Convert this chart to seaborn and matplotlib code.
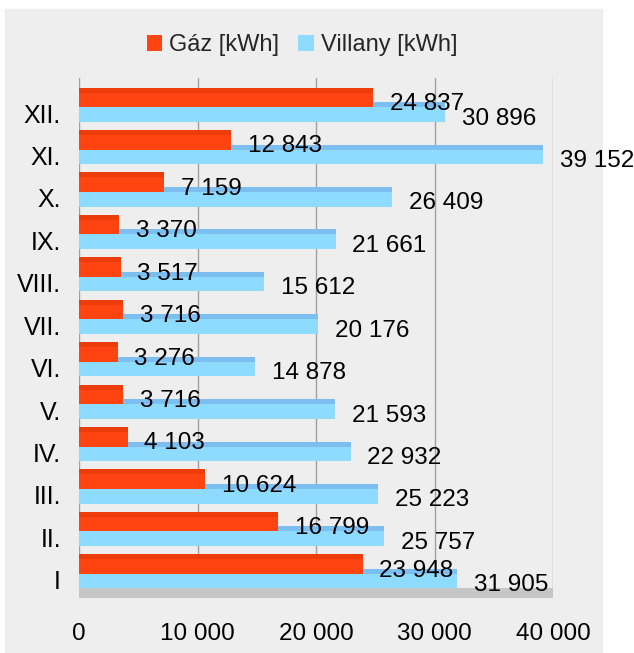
import pandas as pd
import seaborn as sns
import matplotlib.pyplot as plt
from matplotlib.patches import Rectangle
from matplotlib.transforms import ScaledTranslation

# monthly consumption, top row first as in the chart
months = ["XII.", "XI.", "X.", "IX.", "VIII.", "VII.", "VI.", "V.", "IV.", "III.", "II.", "I"]
gaz = [24837, 12843, 7159, 3370, 3517, 3716, 3276, 3716, 4103, 10624, 16799, 23948]
villany = [30896, 39152, 26409, 21661, 15612, 20176, 14878, 21593, 22932, 25223, 25757, 31905]
series = ["Gáz [kWh]", "Villany [kWh]"]
xticks = [0, 10000, 20000, 30000, 40000]

colors = ["#FF4411", "#8DDCFF"]
top_colors = ["#EC3C0A", "#7CBEF0"]


def fmt(v):
    return f"{v:,}".replace(",", " ")


df = pd.DataFrame({
    "month": months * 2,
    "value": gaz + villany,
    "series": [series[0]] * len(months) + [series[1]] * len(months),
})

sns.set_theme(style="white")
plt.rcParams["font.family"] = ["Liberation Sans", "DejaVu Sans"]

fig = plt.figure(figsize=(6.34, 6.53), dpi=100)
# light gray chart area like the spreadsheet export
fig.patches.append(Rectangle((5 / 634, 0), 597 / 634, 1 - 9 / 653,
                             transform=fig.transFigure, color="#EEEEEE", zorder=-10))

ax = fig.add_axes([79 / 634, 1 - 598 / 653, 474 / 634, 520 / 653])
ax.set_facecolor("none")

sns.barplot(data=df, y="month", x="value", hue="series", orient="h",
            palette=colors, width=0.686, saturation=1, linewidth=0, ax=ax)

ax.set_xlim(0, 40000)
ax.set_ylim(11.57, -0.686)

# fake 3d: darker top face above every bar
depth = 0.118
for cont, tc in zip(ax.containers, top_colors):
    for bar in cont:
        ax.add_patch(Rectangle((0, bar.get_y() - depth), bar.get_width(), depth,
                               color=tc, lw=0, zorder=0.9))

# floor
ax.axhspan(11.33, 11.57, color="#C6C6C6", lw=0, zorder=0.8)

for cont, vals in zip(ax.containers, [gaz, villany]):
    texts = ax.bar_label(cont, labels=[fmt(v) for v in vals], padding=12,
                         fontsize=17.5, color="black")
    for t in texts:
        t.xyann = (12, -3)

ax.set_xticks(xticks)
ax.set_xticklabels([fmt(t) for t in xticks])
ax.xaxis.grid(True, color="#A0A0A0", lw=1)
ax.set_axisbelow(True)
ax.tick_params(axis="x", length=0, pad=18, labelsize=17.5, colors="black")
ax.tick_params(axis="y", length=0, pad=13, labelsize=18, colors="black")
shift = ScaledTranslation(0, -6 / 100, fig.dpi_scale_trans)
for lbl in ax.get_yticklabels():
    lbl.set_transform(lbl.get_transform() + shift)
ax.set_xlabel("")
ax.set_ylabel("")
for s in ax.spines.values():
    s.set_visible(False)

handles, labels = ax.get_legend_handles_labels()
ax.legend(handles, labels, loc="center", bbox_to_anchor=(302 / 634, 1 - 45 / 653),
          bbox_transform=fig.transFigure, ncol=2, frameon=False, fontsize=17,
          handlelength=0.65, handleheight=0.65, handletextpad=0.3, columnspacing=0.8)

fig.savefig("out.png", dpi=100, facecolor="white")
